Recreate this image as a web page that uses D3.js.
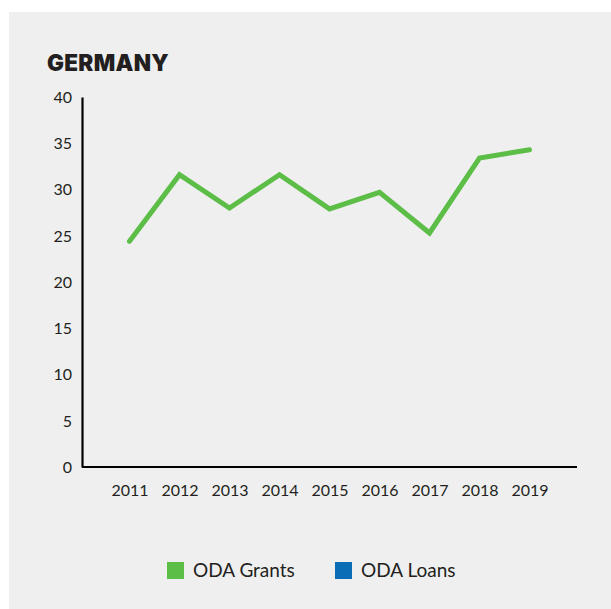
<!DOCTYPE html>
<html>
<head>
<meta charset="utf-8">
<script src="https://cdn.jsdelivr.net/npm/d3@7"></script>
<style>
  html, body { margin: 0; padding: 0; background: #ffffff; }
  svg { display: block; }
  text { font-family: Lato, "Open Sans", sans-serif; fill: #231f20; }
</style>
</head>
<body>
<svg id="chart" width="611" height="609"></svg>
<script>
// Years on the x axis
const years = ["2011", "2012", "2013", "2014", "2015", "2016", "2017", "2018", "2019"];
// ODA grants, per year
const grants = [24.4, 31.6, 28.0, 31.6, 27.9, 29.7, 25.3, 33.4, 34.3];
// ODA loans (no values drawn for this country)
const loans = [];
// Y axis ticks
const yTicks = [0, 5, 10, 15, 20, 25, 30, 35, 40];
// Legend entries
const legendLabels = ["ODA Grants", "ODA Loans"];
const legendColors = ["#5cbd47", "#0a6db5"];

const svg = d3.select("#chart");

// Grey panel
svg.append("rect")
  .attr("x", 9).attr("y", 12)
  .attr("width", 602).attr("height", 597)
  .attr("fill", "#efefef");

// Title
svg.append("text")
  .attr("x", 47).attr("y", 71)
  .style("font-family", "Inter, Roboto, sans-serif")
  .style("font-size", "22.5px")
  .style("font-weight", 900)
  .style("letter-spacing", "0.3px")
  .attr("fill", "#1a1a1a")
  .text("GERMANY");

const plot = { left: 82, right: 577, top: 97, bottom: 467 };

const x = d3.scalePoint().domain(years).range([plot.left, plot.right]).padding(0.95);
const y = d3.scaleLinear().domain([0, 40]).range([plot.bottom, plot.top]);

// Y axis
const yAxis = svg.append("g")
  .attr("transform", `translate(${plot.left},0)`)
  .call(d3.axisLeft(y).tickValues(yTicks).tickSize(0).tickPadding(10));
yAxis.select(".domain").attr("stroke", "#000").attr("stroke-width", 2.2);
yAxis.selectAll("text")
  .style("font-size", "16px")
  .attr("fill", "#231f20")
  .attr("dy", "0.34em");

// X axis
const xAxis = svg.append("g")
  .attr("transform", `translate(0,${plot.bottom})`)
  .call(d3.axisBottom(x).tickSize(0).tickPadding(18));
xAxis.select(".domain")
  .attr("d", `M${plot.left},0H${plot.right}`)
  .attr("stroke", "#000").attr("stroke-width", 2.2);
xAxis.selectAll("text")
  .style("font-size", "16px")
  .attr("fill", "#231f20");

// Grants line
const line = d3.line()
  .x((d, i) => x(years[i]))
  .y(d => y(d));

svg.append("path")
  .datum(grants)
  .attr("d", line)
  .attr("fill", "none")
  .attr("stroke", legendColors[0])
  .attr("stroke-width", 5)
  .attr("stroke-linejoin", "miter")
  .attr("stroke-linecap", "round");

// Legend
const legendX = [167, 335];
const legend = svg.append("g");
legendLabels.forEach((label, i) => {
  legend.append("rect")
    .attr("x", legendX[i]).attr("y", 562)
    .attr("width", 17).attr("height", 17)
    .attr("fill", legendColors[i]);
  legend.append("text")
    .attr("x", legendX[i] + 26).attr("y", 577)
    .style("font-size", "19px")
    .text(label);
});
</script>
</body>
</html>
